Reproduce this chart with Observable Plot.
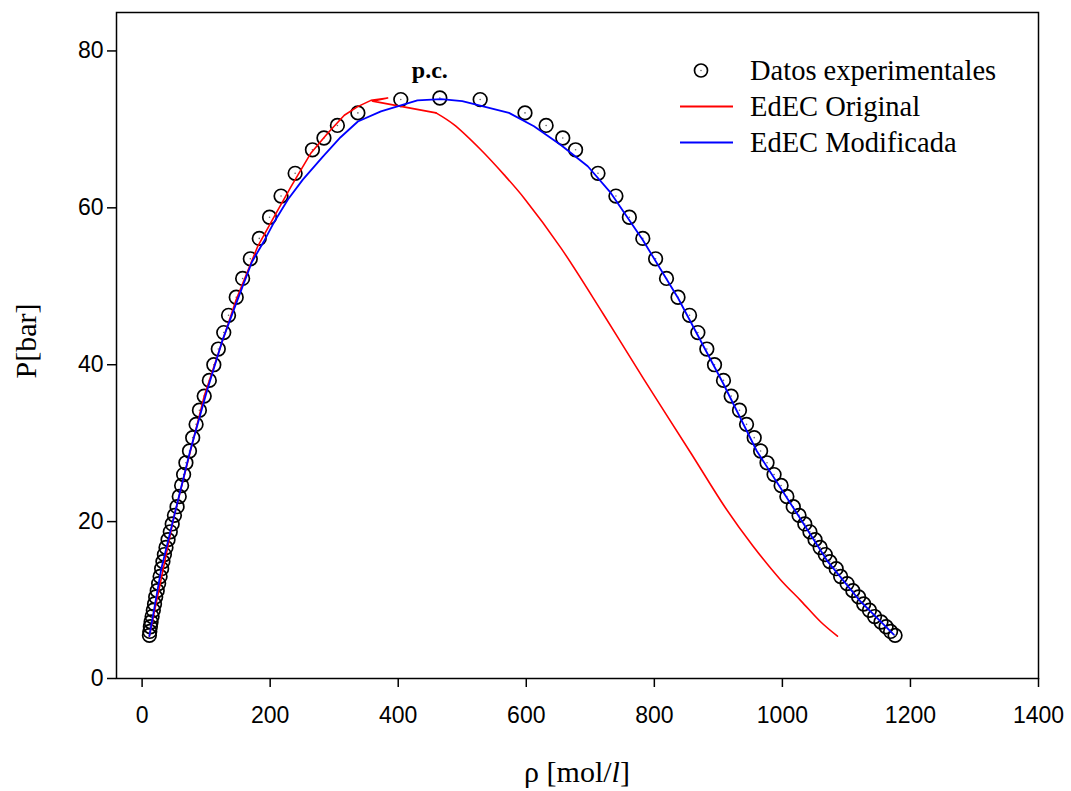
<!DOCTYPE html>
<html>
<head>
<meta charset="utf-8">
<script src="https://cdn.jsdelivr.net/npm/d3@7"></script>
<script src="https://cdn.jsdelivr.net/npm/@observablehq/plot@0.6"></script>
<style>
  body { margin: 0; background: #fff; }
  #wrap { position: relative; width: 1071px; height: 791px; background: #fff; }
  .serif { font-family: "Liberation Serif", "Times New Roman", serif; color: #000; }
  #xlab { position: absolute; left: 116px; width: 922px; top: 757px; text-align: center; font-size: 30px; line-height: 1; }
  #ylab { position: absolute; left: 26px; top: 341px; font-size: 30px; line-height: 1; transform: translate(-50%, -50%) rotate(-90deg); white-space: nowrap; }
  #legend { position: absolute; left: 0; top: 0; pointer-events: none; }
</style>
</head>
<body>
<div id="wrap">
  <div id="chart"></div>
  <div id="xlab" class="serif">ρ [mol/<i>l</i>]</div>
  <div id="ylab" class="serif">P[bar]</div>
  <svg id="legend" width="1071" height="791"></svg>
</div>
<script>
// ---- Data ----
// Experimental coexistence pressures [bar], with vapour and liquid densities
const pressures = [73.8, 72.1, 70.5, 68.9, 67.4, 64.4, 61.5, 58.8, 56.1, 53.5, 51.0, 48.6, 46.3, 44.1, 42.0, 40.0, 38.0, 36.0, 34.2, 32.4, 30.7, 29.0, 27.5, 26.0, 24.6, 23.2, 21.9,
  20.8, 19.7, 18.7, 17.7, 16.7, 15.8, 14.9, 14.0, 13.0, 12.1, 11.2, 10.4, 9.5, 8.7, 7.9, 7.2, 6.6, 6.0, 5.5];
const rhoVapor = [404, 337, 305, 284, 266, 239, 217, 199, 183, 169, 157, 147, 135, 127.5, 119, 112, 105, 97, 89.5, 84.3, 79, 74, 68.4, 64.8, 61.7, 58, 54.6,
  50.5, 47, 44, 40.5, 37.3, 34.8, 32.5, 30.5, 28.1, 25.8, 23.6, 21.2, 19.4, 17.5, 15.6, 14.0, 12.9, 12.0, 11.4];
const rhoLiquid = [528, 598, 631, 657, 677, 712, 740, 761, 782, 802, 819, 837, 855, 868, 882, 894, 908, 920, 933, 944, 956, 966, 976, 987, 998, 1007, 1017,
  1026, 1035, 1043, 1051, 1059, 1067, 1074, 1084, 1091, 1101, 1110, 1119, 1127, 1136, 1144, 1154, 1162, 1169, 1176];
// Critical point (p.c.)
const criticalRho = 465;
const criticalP = 74.0;

// EdEC Original (red): vapour branch up to the hook, then liquid branch
const origVapRho = [11.4, 50, 97, 147, 180.6, 206.5, 232.6, 263.8, 289.8, 315.8, 336.7, 357.4, 383.5, 360, 459];
const origVapP   = [5.4, 20.7, 36.0, 48.3, 55.1, 58.9, 62.7, 67.0, 69.5, 71.8, 72.9, 73.7, 74.0, 73.6, 72.1];
const origLiqRho = [459, 487, 529, 565.5, 597, 654, 720, 784, 857, 911.5, 954, 997, 1029, 1060, 1086];
const origLiqP   = [72.1, 70.6, 67.4, 64.2, 61.2, 54.9, 46.5, 38.1, 28.75, 21.7, 16.9, 12.6, 9.9, 7.2, 5.4];

// EdEC Modificada (blue)
const modRho = [11.4, 30, 50, 75, 100, 125, 149.6, 171.5, 190, 207, 228, 251, 282, 310, 337, 373, 430, 467, 500, 573, 612, 654, 696, 732, 782, 837, 907, 960, 1016, 1070, 1120, 1174];
const modP   = [5.4, 14.0, 20.7, 29.0, 36.3, 43.0, 48.4, 53.1, 55.7, 58.3, 61.1, 63.6, 66.5, 69.0, 71.0, 72.3, 73.7, 73.85, 73.6, 72.1, 70.4, 68.0, 65.3, 61.9, 55.9, 48.5, 37.7, 29.0, 21.9, 15.0, 10.0, 5.6];

const xTicks = [0, 200, 400, 600, 800, 1000, 1200, 1400];
const yTicks = [0, 20, 40, 60, 80];

// ---- Tables ----
const expData = [
  ...pressures.map((p, i) => ({rho: rhoVapor[i], P: p})),
  {rho: criticalRho, P: criticalP},
  ...pressures.map((p, i) => ({rho: rhoLiquid[i], P: p}))
];
const origVap = origVapRho.map((r, i) => ({rho: r, P: origVapP[i]}));
const origLiq = origLiqRho.map((r, i) => ({rho: r, P: origLiqP[i]}));
const modData = modRho.map((r, i) => ({rho: r, P: modP[i]}));
const pcData = [{rho: criticalRho, P: criticalP, label: "p.c."}];

const chart = Plot.plot({
  width: 1071,
  height: 791,
  marginLeft: 116,
  marginRight: 33,
  marginTop: 12,
  marginBottom: 113,
  x: {domain: [-40, 1400]},
  y: {domain: [0, 84.9]},
  style: {fontFamily: "'Liberation Sans', Arial, sans-serif", fontSize: "23px", color: "#000", background: "#fff", overflow: "visible"},
  marks: [
    Plot.axisX({ticks: xTicks, tickSize: 9, tickPadding: 19, label: null, tickFormat: d => String(d), strokeWidth: 1.5}),
    Plot.axisY({ticks: yTicks, tickSize: 9, tickPadding: 4, label: null, tickFormat: d => String(d), strokeWidth: 1.5}),
    Plot.dot(expData, {x: "rho", y: "P", r: 6.8, stroke: "#000", strokeWidth: 1.7, fill: "none"}),
    Plot.dot(expData, {x: "rho", y: "P", r: 0.8, fill: "#666", stroke: "none"}),
    Plot.line(origVap, {x: "rho", y: "P", stroke: "#ff0000", strokeWidth: 1.6}),
    Plot.line(origLiq, {x: "rho", y: "P", stroke: "#ff0000", strokeWidth: 1.6, curve: "catmull-rom"}),
    Plot.line(modData, {x: "rho", y: "P", stroke: "#0000ff", strokeWidth: 1.8}),
    Plot.text(pcData, {x: "rho", y: "P", text: "label", dx: -10, dy: -28, fontFamily: "'Liberation Serif', 'Times New Roman', serif", fontWeight: "bold", fontSize: 24, fill: "#000"}),
    Plot.frame({stroke: "#000", strokeWidth: 1.5})
  ]
});
document.getElementById("chart").appendChild(chart);

// ---- Legend (real text) ----
const legendItems = [
  {label: "Datos experimentales", kind: "dot"},
  {label: "EdEC Original", kind: "line", color: "#ff0000"},
  {label: "EdEC Modificada", kind: "line", color: "#0000ff"}
];
const lg = d3.select("#legend");
legendItems.forEach((it, i) => {
  const cy = 70.5 + i * 36;
  if (it.kind === "dot") {
    lg.append("circle").attr("cx", 701).attr("cy", cy).attr("r", 6.5).attr("fill", "none").attr("stroke", "#000").attr("stroke-width", 1.7);
    lg.append("circle").attr("cx", 701).attr("cy", cy).attr("r", 0.8).attr("fill", "#666");
  } else {
    lg.append("line").attr("x1", 680).attr("x2", 733).attr("y1", cy).attr("y2", cy).attr("stroke", it.color).attr("stroke-width", 1.8);
  }
  lg.append("text").attr("x", 750).attr("y", cy).attr("dy", "0.33em")
    .attr("font-family", "'Liberation Serif', 'Times New Roman', serif").attr("font-size", 28.5).attr("fill", "#000")
    .text(it.label);
});
</script>
</body>
</html>
